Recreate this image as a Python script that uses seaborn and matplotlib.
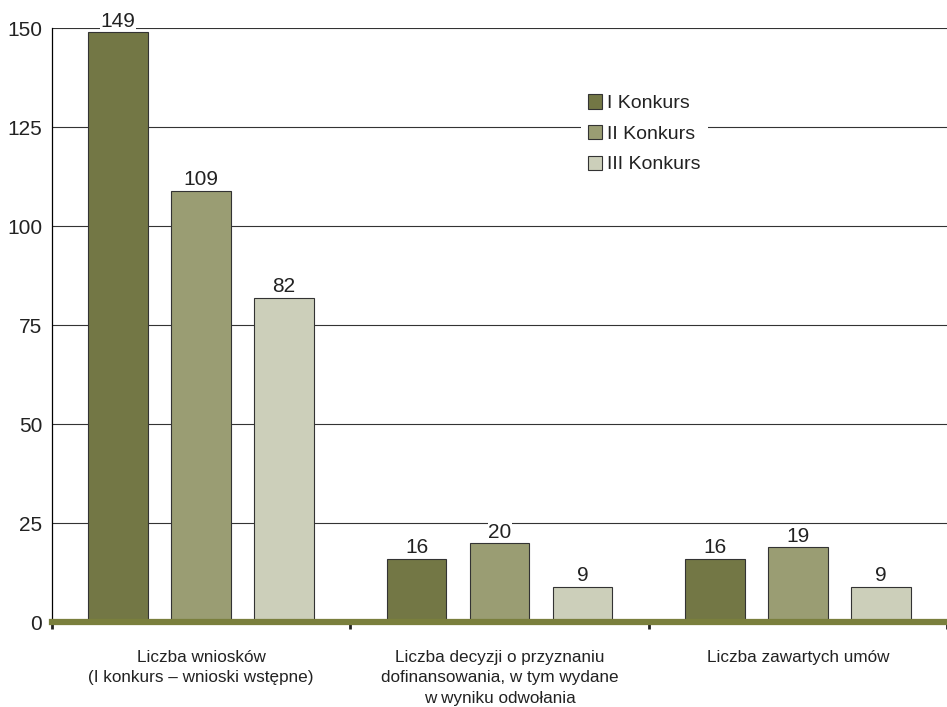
import numpy as np
import pandas as pd
import matplotlib.pyplot as plt
import seaborn as sns
from matplotlib.ticker import FixedLocator

categories = [
    "Liczba wniosków\n(I konkurs – wnioski wstępne)",
    "Liczba decyzji o przyznaniu\ndofinansowania, w tym wydane\nw wyniku odwołania",
    "Liczba zawartych umów",
]
series = ["I Konkurs", "II Konkurs", "III Konkurs"]
konkurs_1 = [149, 16, 16]
konkurs_2 = [109, 20, 19]
konkurs_3 = [82, 9, 9]
colors = ["#7a7f3d", "#a0a46c", "#cfd2b7"]

df = pd.DataFrame({
    "kategoria": categories * 3,
    "konkurs": np.repeat(series, 3),
    "wartosc": konkurs_1 + konkurs_2 + konkurs_3,
})

sns.set_style("white")
plt.rcParams["font.family"] = ["Liberation Sans", "DejaVu Sans"]

fig = plt.figure(figsize=(9.47, 7.07), dpi=100)
ax = fig.add_axes([0.055, 0.12, 0.945, 0.84])

sns.barplot(data=df, x="kategoria", y="wartosc", hue="konkurs",
            palette=colors, width=0.834, gap=0.28, edgecolor="#333333",
            linewidth=0.8, ax=ax, zorder=3)

for cont in ax.containers:
    ax.bar_label(cont, padding=1, fontsize=15, color="#222222",
                 bbox=dict(facecolor="white", edgecolor="none", pad=0.3))

ax.set_ylim(0, 150)
ax.set_xlim(-0.5, 2.5)
ax.set_yticks([0, 25, 50, 75, 100, 125, 150])
ax.tick_params(axis="y", labelsize=15, left=False, length=0, pad=7, labelcolor="#222222")
ax.yaxis.grid(True, color="#333333", linewidth=0.8, zorder=0)
ax.set_axisbelow(True)

ax.set_xticks([0, 1, 2])
ax.set_xticklabels(categories, fontsize=12.3, color="#222222", linespacing=1.45)
ax.tick_params(axis="x", which="major", bottom=False, length=0, pad=20)
ax.xaxis.set_minor_locator(FixedLocator([-0.5, 0.5, 1.5, 2.5]))
ax.tick_params(axis="x", which="minor", bottom=True, length=5, width=2,
               color="#222222", direction="out")

ax.set_xlabel("")
ax.set_ylabel("")
for s in ["top", "right"]:
    ax.spines[s].set_visible(False)
ax.spines["left"].set_color("black")
ax.spines["left"].set_linewidth(0.9)
ax.spines["bottom"].set_color("#7a7f3d")
ax.spines["bottom"].set_linewidth(4.5)
ax.spines["bottom"].set_zorder(5)

leg = ax.legend(loc="upper left", bbox_to_anchor=(0.591, 0.90), frameon=True,
                fontsize=14, handlelength=0.75, handleheight=0.75, handletextpad=0.25,
                labelspacing=0.65, borderpad=0.35, borderaxespad=0)
leg.get_frame().set_facecolor("white")
leg.get_frame().set_edgecolor("none")
leg.get_frame().set_alpha(1)
for h in leg.legend_handles:
    h.set_edgecolor("#333333")
for t in leg.get_texts():
    t.set_color("#222222")

fig.savefig("out.png", dpi=100)
